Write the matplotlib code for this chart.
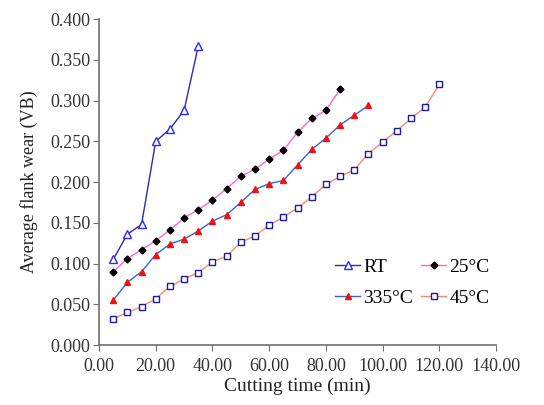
import matplotlib
matplotlib.use("Agg")
import matplotlib.pyplot as plt
from matplotlib.ticker import FormatStrFormatter, MultipleLocator

plt.rcParams['font.family'] = ['Liberation Serif', 'DejaVu Serif']

rt_x = [5, 10, 15, 20, 25, 30, 35]
rt_y = [0.105, 0.136, 0.148, 0.250, 0.265, 0.288, 0.367]

c25_x = [5, 10, 15, 20, 25, 30, 35, 40, 45, 50, 55, 60, 65, 70, 75, 80, 85]
c25_y = [0.090, 0.106, 0.117, 0.128, 0.141, 0.156, 0.166, 0.178, 0.192,
         0.207, 0.216, 0.228, 0.239, 0.261, 0.278, 0.288, 0.314]

c335_x = [5, 10, 15, 20, 25, 30, 35, 40, 45, 50, 55, 60, 65, 70, 75, 80, 85, 90, 95]
c335_y = [0.055, 0.077, 0.090, 0.111, 0.124, 0.130, 0.140, 0.152, 0.160,
          0.175, 0.191, 0.198, 0.202, 0.221, 0.240, 0.254, 0.270, 0.282, 0.294]

c45_x = [5, 10, 15, 20, 25, 30, 35, 40, 45, 50, 55, 60, 65, 70, 75, 80, 85,
         90, 95, 100, 105, 110, 115, 120]
c45_y = [0.032, 0.040, 0.047, 0.057, 0.072, 0.081, 0.089, 0.102, 0.109,
         0.126, 0.134, 0.147, 0.157, 0.168, 0.182, 0.197, 0.207, 0.215,
         0.235, 0.249, 0.263, 0.278, 0.292, 0.320]

fig = plt.figure(figsize=(5.44, 4.05), dpi=100)
ax = fig.add_axes([0.182, 0.148, 0.730, 0.805])

h_rt, = ax.plot(rt_x, rt_y, color='#2b2bb0', lw=1.0, marker='^', ms=6,
                mfc='white', mec='#2a2aff', mew=1.0, label='RT')
h25, = ax.plot(c25_x, c25_y, color='#ff66cc', lw=1.0, marker='D', ms=3.5,
               mfc='black', mec='black', label='25°C')
h335, = ax.plot(c335_x, c335_y, color='#3366dd', lw=1.0, marker='^', ms=3.8,
                mfc='#ee1111', mec='#ee1111', label='335°C')
h45, = ax.plot(c45_x, c45_y, color='#ff8866', lw=1.0, marker='s', ms=3.8,
               mfc='white', mec='#1a1aaa', mew=1.0, label='45°C')

ax.set_xlim(0, 140)
ax.set_ylim(0, 0.4)
ax.xaxis.set_major_locator(MultipleLocator(20))
ax.yaxis.set_major_locator(MultipleLocator(0.05))
ax.xaxis.set_major_formatter(FormatStrFormatter('%.2f'))
ax.yaxis.set_major_formatter(FormatStrFormatter('%.3f'))

for s in ['top', 'right']:
    ax.spines[s].set_visible(False)
for s in ['left', 'bottom']:
    ax.spines[s].set_color('#707070')
    ax.spines[s].set_linewidth(1.2)
ax.tick_params(direction='out', length=4, color='#707070', labelsize=13,
               labelcolor='#333333')
ax.tick_params(axis='x', pad=5)
ax.tick_params(axis='y', pad=2)

ax.set_xlabel('Cutting time (min)', fontsize=14, color='#222222', labelpad=2)
ax.set_ylabel('Average flank wear (VB)', fontsize=13, color='#222222', labelpad=9)

ax.legend([h_rt, h335, h25, h45], ['RT', '335°C', '25°C', '45°C'],
          ncol=2, loc='lower left', bbox_to_anchor=(0.575, 0.093), frameon=False,
          fontsize=14, handlelength=1.3, handletextpad=0.15, columnspacing=0.4,
          labelspacing=0.7, borderaxespad=0)

fig.savefig('out.png', dpi=100)
